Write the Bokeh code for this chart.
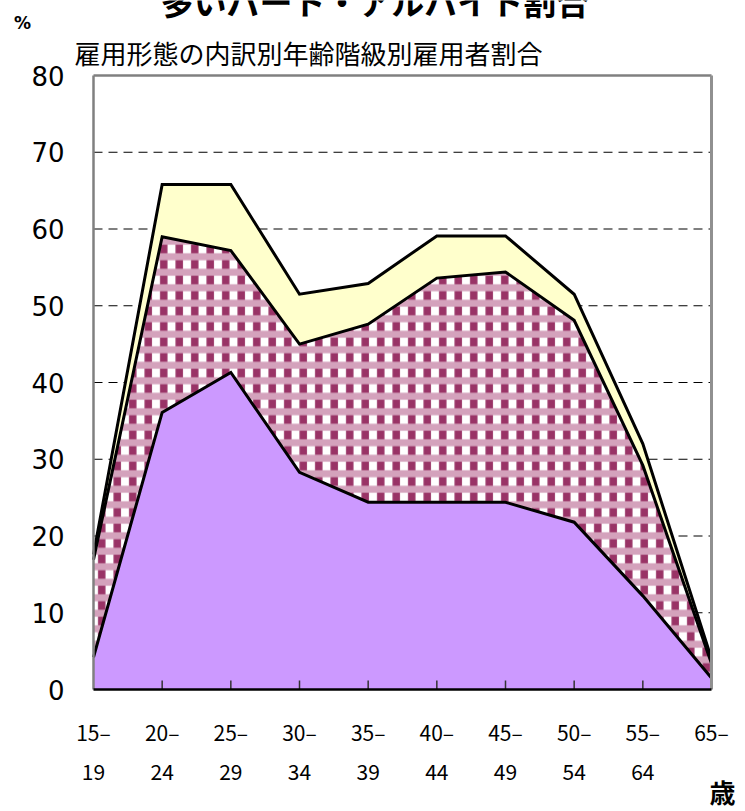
import numpy as np
from bokeh.plotting import figure
from bokeh.models import Range1d
from bokeh.embed import file_html
from bokeh.resources import INLINE
from bokeh.core.properties import value

# --- data -------------------------------------------------------------
age_top = ["15–", "20–", "25–", "30–", "35–", "40–", "45–", "50–", "55–", "65–"]
age_bottom = ["19", "24", "29", "34", "39", "44", "49", "54", "64", ""]

# share of employees by type of employment (%), stacked bottom → top
regular = [4.2, 36.1, 41.3, 28.3, 24.4, 24.4, 24.4, 21.8, 12.2, 1.5]
part_time = [12.7, 22.9, 15.9, 16.7, 23.2, 29.2, 30.0, 26.3, 17.0, 1.9]
other = [0.7, 6.8, 8.6, 6.5, 5.3, 5.5, 4.7, 3.4, 2.8, 0.6]

y_ticks = [0, 10, 20, 30, 40, 50, 60, 70, 80]

title_text = "多いパート・アルバイト割合"
subtitle_text = "雇用形態の内訳別年齢階級別雇用者割合"

# --- layout (pixels) --------------------------------------------------
W, H = 745, 811
L, R, T, B = 93, 711, 75, 689          # chart area edges
n = len(age_top) - 1
y_max = y_ticks[-1]
sx = (R - L) / n
sy = (B - T) / y_max


def X(px):
    return (px - L) / sx


def Y(py):
    return (B - py) / sy


p = figure(width=W, height=H,
           x_range=Range1d(X(0), X(W)), y_range=Range1d(Y(H), Y(0)),
           output_backend="svg", toolbar_location=None,
           x_axis_location=None, y_axis_location=None,
           min_border=0, outline_line_color=None, title=None)
p.background_fill_color = "white"
p.border_fill_color = "white"
p.grid.visible = False

xs = np.arange(len(age_top))
c1 = np.array(regular)
c2 = c1 + np.array(part_time)
c3 = c2 + np.array(other)

# dashed gridlines
for v in y_ticks[1:-1]:
    p.line([0, n], [v, v], line_color="black", line_width=1, line_dash="9 6")

# stacked areas
p.varea(x=xs, y1=0, y2=c1, fill_color="#CC99FF")
p.varea(x=xs, y1=c1, y2=c2, fill_color="white",
        hatch_pattern="vertical_line", hatch_color="#993366",
        hatch_weight=7.5, hatch_scale=15.5)
p.varea(x=xs, y1=c1, y2=c2, fill_alpha=0,
        hatch_pattern="horizontal_line", hatch_color="#D4A2BC",
        hatch_weight=7, hatch_scale=15.5)
p.varea(x=xs, y1=c2, y2=c3, fill_color="#FFFFCC")

for top in (c1, c2, c3):
    p.line(xs, top, line_color="black", line_width=3, line_join="miter")

# inner tick marks on the category axis
p.segment(x0=xs[1:-1], y0=0, x1=xs[1:-1], y1=Y(B - 9),
          line_color="#333333", line_width=1.5)

# chart frame
p.line([0, 0], [0, y_max], line_color="#808080", line_width=2.5)
p.line([0, n], [y_max, y_max], line_color="#808080", line_width=2.5)
p.line([n, n], [0, y_max], line_color="#909090", line_width=3)
p.line([0, n], [0, 0], line_color="black", line_width=2.5)

# value labels
p.text(x=[X(64)] * len(y_ticks), y=y_ticks, text=[str(v) for v in y_ticks],
       text_font=value("DejaVu Sans"), text_font_size="26px",
       text_align="right", text_baseline="middle", text_color="black")

# age group labels (two rows)
p.text(x=xs, y=[Y(731)] * len(xs), text=age_top,
       text_font=value("Noto Sans CJK JP"), text_font_size="21px",
       text_align="center", text_baseline="middle", text_color="black")
p.text(x=xs, y=[Y(771)] * len(xs), text=age_bottom,
       text_font=value("Noto Sans CJK JP"), text_font_size="21px",
       text_align="center", text_baseline="middle", text_color="black")

# unit captions, heading and subtitle
p.text(x=[X(722)], y=[Y(791)], text=["歳"],
       text_font=value("Noto Sans CJK JP"), text_font_size="26px",
       text_font_style="bold", text_align="center", text_baseline="middle")
p.text(x=[X(22)], y=[Y(22)], text=["%"],
       text_font=value("DejaVu Sans"), text_font_size="17px",
       text_font_style="bold", text_align="center", text_baseline="middle")
p.text(x=[X(74)], y=[Y(52)], text=[subtitle_text],
       text_font=value("Noto Sans CJK JP"), text_font_size="26px",
       text_align="left", text_baseline="middle")
p.text(x=[X(160)], y=[Y(0)], text=[title_text],
       text_font=value("Noto Sans CJK JP"), text_font_size="33px",
       text_font_style="bold", text_align="left", text_baseline="alphabetic")

open("out.html", "w").write(file_html(p, INLINE))
